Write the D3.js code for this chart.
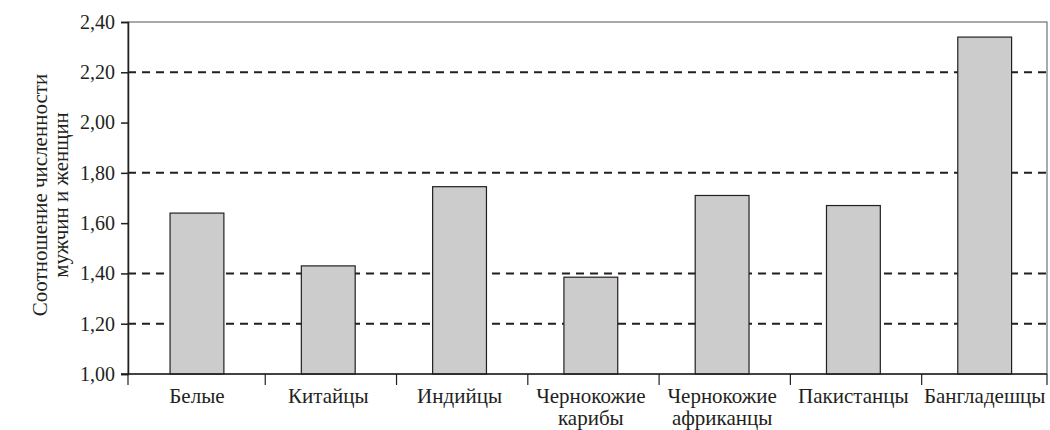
<!DOCTYPE html>
<html>
<head>
<meta charset="utf-8">
<script src="https://cdn.jsdelivr.net/npm/d3@7"></script>
<style>
  body { margin: 0; background: #fff; }
</style>
</head>
<body>
<div id="chart"></div>
<script>
var categories = [["Белые"], ["Китайцы"], ["Индийцы"], ["Чернокожие", "карибы"],
                  ["Чернокожие", "африканцы"], ["Пакистанцы"], ["Бангладешцы"]];
var ratios = [1.64, 1.43, 1.745, 1.385, 1.71, 1.67, 2.34];
var yTicks = [1.00, 1.20, 1.40, 1.60, 1.80, 2.00, 2.20, 2.40];
var gridValues = [1.20, 1.40, 1.80, 2.20];
var yTitle = ["Соотношение численности", "мужчин и женщин"];

var width = 1050, height = 430;
var margin = {top: 22, right: 3, bottom: 56, left: 128};
var innerW = width - margin.left - margin.right,
    innerH = height - margin.top - margin.bottom;
var ink = "#231f20";
var serif = "'Liberation Serif'";

var svg = d3.select("#chart")
  .append("svg")
    .attr("width", width)
    .attr("height", height)
  .append("g")
    .attr("transform", "translate(" + margin.left + "," + margin.top + ")");

var names = categories.map(function(d) { return d.join(" "); });

var x = d3.scaleBand()
    .domain(names)
    .range([0, innerW])
    .paddingInner(0.59)
    .paddingOuter(0.295)
    .align(0.543);

var y = d3.scaleLinear()
    .domain([1.0, 2.4])
    .range([innerH, 0]);

// dashed grid lines
svg.selectAll(".grid")
  .data(gridValues)
  .enter()
  .append("line")
    .attr("x1", 0)
    .attr("x2", innerW)
    .attr("y1", function(d) { return y(d); })
    .attr("y2", function(d) { return y(d); })
    .style("stroke", ink)
    .style("stroke-width", 2)
    .style("stroke-dasharray", "8,6");

// plot box
svg.append("rect")
    .attr("x", 0)
    .attr("y", 0)
    .attr("width", innerW)
    .attr("height", innerH)
    .style("fill", "none")
    .style("stroke", "#555")
    .style("stroke-width", 1);

// bars
svg.selectAll(".bar")
  .data(ratios)
  .enter()
  .append("rect")
    .attr("x", function(d, i) { return x(names[i]); })
    .attr("y", function(d) { return y(d); })
    .attr("width", x.bandwidth())
    .attr("height", function(d) { return innerH - y(d); })
    .style("fill", "#cccccc")
    .style("stroke", ink)
    .style("stroke-width", 1.2);

// y axis
var yAxis = svg.append("g")
    .call(d3.axisLeft(y)
      .tickValues(yTicks)
      .tickSize(7)
      .tickPadding(6)
      .tickFormat(function(d) { return d3.format(".2f")(d).replace(".", ","); }));
yAxis.select(".domain").style("stroke", ink).style("stroke-width", 1.5);
yAxis.selectAll(".tick line").style("stroke", ink).style("stroke-width", 1.5);
yAxis.selectAll("text")
    .attr("font-family", serif)
    .attr("font-size", 20)
    .style("fill", ink);

// x axis line and category separator ticks
var sepTicks = [0].concat(names.slice(1).map(function(n) { return x(n) - x.step() * 0.275; }), [innerW]);
svg.append("line")
    .attr("x1", -7)
    .attr("x2", innerW)
    .attr("y1", innerH)
    .attr("y2", innerH)
    .style("stroke", ink)
    .style("stroke-width", 1.5);
svg.selectAll(".xtick")
  .data(sepTicks)
  .enter()
  .append("line")
    .attr("x1", function(d) { return d; })
    .attr("x2", function(d) { return d; })
    .attr("y1", innerH)
    .attr("y2", innerH + 11)
    .style("stroke", ink)
    .style("stroke-width", 1.2);

// category labels
var labels = svg.selectAll(".xlabel")
  .data(categories)
  .enter()
  .append("text")
    .attr("x", function(d, i) { return x(names[i]) + x.bandwidth() / 2; })
    .attr("y", innerH + 29)
    .attr("text-anchor", "middle")
    .attr("font-family", serif)
    .attr("font-size", 21)
    .style("fill", ink);
labels.selectAll("tspan")
  .data(function(d) { return d; })
  .enter()
  .append("tspan")
    .attr("x", function() { return this.parentNode.getAttribute("x"); })
    .attr("dy", function(d, i) { return i === 0 ? 0 : 22; })
    .text(function(d) { return d; });

// y title
svg.append("text")
    .attr("transform", "translate(" + (47 - margin.left) + "," + (innerH / 2 - 3) + ") rotate(-90)")
    .attr("text-anchor", "middle")
    .attr("font-family", serif)
    .attr("font-size", 21)
    .style("fill", ink)
  .selectAll("tspan")
  .data(yTitle)
  .enter()
  .append("tspan")
    .attr("x", 0)
    .attr("dy", function(d, i) { return i === 0 ? 0 : 21; })
    .text(function(d) { return d; });
</script>
</body>
</html>
